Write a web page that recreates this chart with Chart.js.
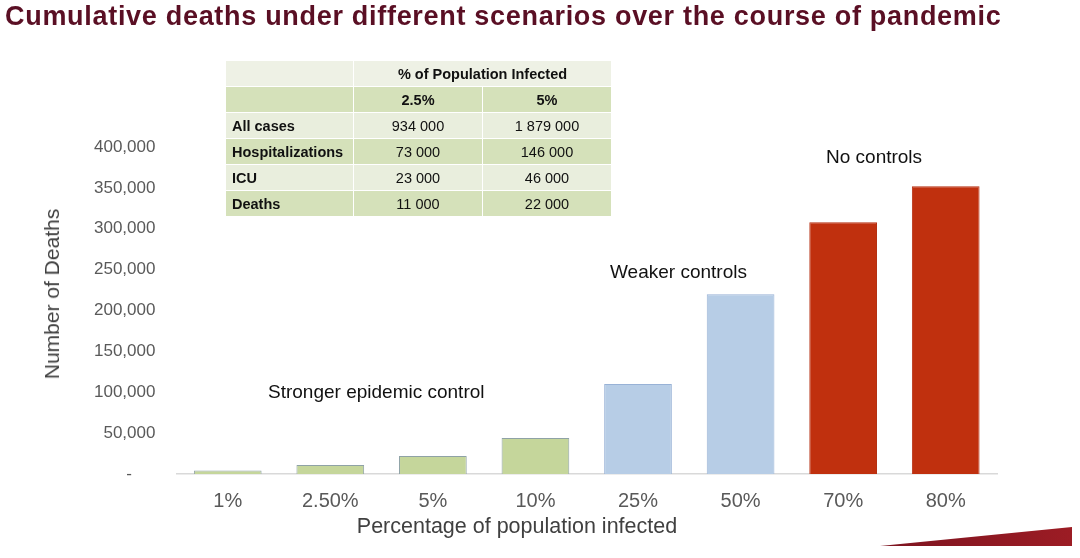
<!DOCTYPE html>
<html>
<head>
<meta charset="utf-8">
<script src="https://cdn.jsdelivr.net/npm/chart.js@4"></script>
<style>
  body { margin: 0; background: #fff; font-family: "Liberation Sans", Arial, sans-serif; }
  #wrap { position: relative; width: 1080px; height: 558px; overflow: hidden; }
  #title { position: absolute; left: 5px; top: 1px; font-size: 27px; letter-spacing: 0.7px; font-weight: bold; color: #5a0f24; white-space: nowrap; }
  table { position: absolute; left: 225px; top: 60px; border-collapse: collapse; font-size: 14.5px; color: #111; }
  td { height: 25px; padding: 0 6px; border: 1.5px solid #fff; text-align: center; }
  td:first-child { text-align: left; font-weight: bold; width: 115px; }
  td.c { width: 116px; }
  tr.h td { font-weight: bold; }
  tr.a td { background: #e9eedd; }
  tr.b td { background: #d5e1ba; }
  tr.top td { background: #eef1e5; }
  .note { position: absolute; font-size: 19px; color: #111; white-space: nowrap; }
  .axis-title { position: absolute; color: #404040; white-space: nowrap; transform: translate(-50%, -50%); }
  #ytitle { left: 52px; top: 294px; font-size: 21px; transform: translate(-50%, -50%) rotate(-90deg); }
  #xtitle { left: 517px; top: 526px; font-size: 21.5px; }
  #wedge { position: absolute; left: 880px; top: 527px; width: 192px; height: 19px;
           background: linear-gradient(90deg, #7d1420, #9c1c24);
           clip-path: polygon(0 100%, 100% 0, 100% 100%); }
</style>
</head>
<body>
<div id="wrap">
  <canvas id="myChart"></canvas>
  <div id="title">Cumulative deaths under different scenarios over the course of pandemic</div>
  <table>
    <tr class="top h"><td></td><td colspan="2">% of Population Infected</td></tr>
    <tr class="b h"><td></td><td class="c">2.5%</td><td class="c">5%</td></tr>
    <tr class="a"><td>All cases</td><td>934 000</td><td>1 879 000</td></tr>
    <tr class="b"><td>Hospitalizations</td><td>73 000</td><td>146 000</td></tr>
    <tr class="a"><td>ICU</td><td>23 000</td><td>46 000</td></tr>
    <tr class="b"><td>Deaths</td><td>11 000</td><td>22 000</td></tr>
  </table>
  <div class="note" style="left:268px; top:381px;">Stronger epidemic control</div>
  <div class="note" style="left:610px; top:261px;">Weaker controls</div>
  <div class="note" style="left:826px; top:146px;">No controls</div>
  <div class="axis-title" id="ytitle">Number of Deaths</div>
  <div class="axis-title" id="xtitle">Percentage of population infected</div>
  <div id="wedge"></div>
</div>
<script>
const xValues = ["1%", "2.50%", "5%", "10%", "25%", "50%", "70%", "80%"];
const yValues = [4400, 11000, 22000, 44000, 110000, 220000, 308000, 352000];
const barColors = ["#c5d69b", "#c5d69b", "#c5d69b", "#c5d69b", "#b7cde6", "#b7cde6", "#c0300e", "#c0300e"];
const barBorders = ["#8fa2a6", "#8fa2a6", "#8fa2a6", "#8fa2a6", "#98b2d6", "#98b2d6", "#b52e10", "#b52e10"];

const ctx = document.getElementById('myChart');

new Chart(ctx, {
  type: "bar",
  data: {
    labels: xValues,
    datasets: [{
      backgroundColor: barColors,
      borderColor: barBorders,
      borderWidth: 1,
      data: yValues,
      categoryPercentage: 1,
      barPercentage: 0.66
    }]
  },
  options: {
    responsive: true,
    maintainAspectRatio: false,
    animation: false,
    layout: {padding: {left: 81, right: 83, top: 147, bottom: 38}},
    plugins: {
      legend: {display: false},
      tooltip: {enabled: false}
    },
    scales: {
      x: {
        grid: {display: false},
        border: {display: true, color: "#d9d9d9", width: 1.5},
        ticks: {color: "#595959", font: {family: "Liberation Sans", size: 20}, padding: 7}
      },
      y: {
        min: 0,
        max: 400000,
        grid: {display: false},
        border: {display: false},
        ticks: {
          stepSize: 50000,
          color: "#595959",
          font: {family: "Liberation Sans", size: 17},
          padding: 13,
          callback: v => v === 0 ? "-     " : v.toLocaleString("en-US")
        }
      }
    }
  }
});
</script>
</body>
</html>
